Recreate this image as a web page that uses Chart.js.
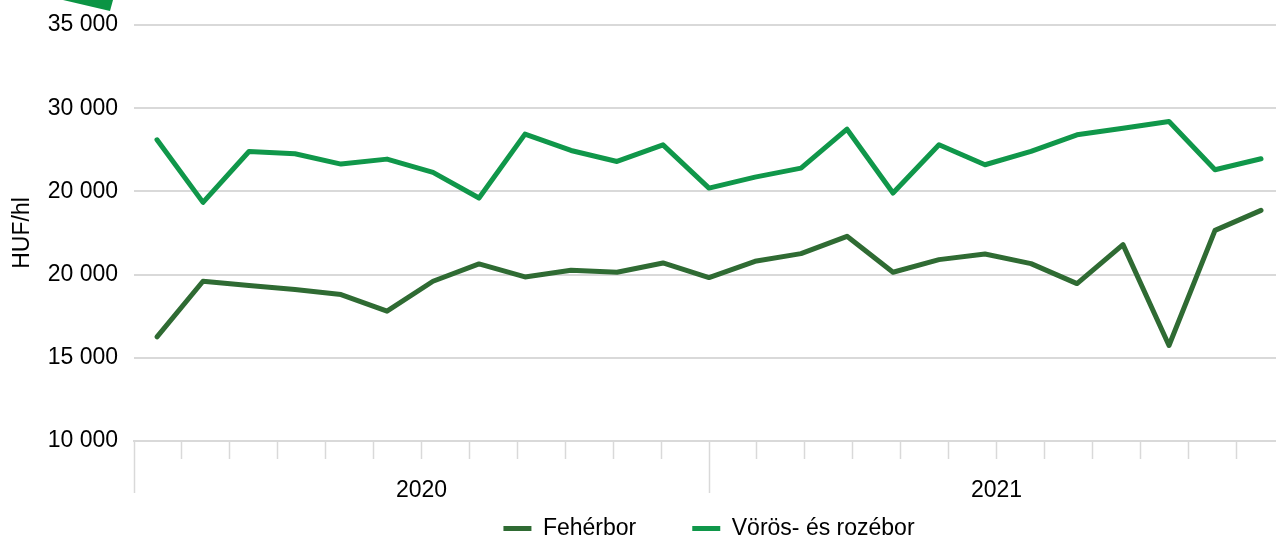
<!DOCTYPE html>
<html>
<head>
<meta charset="utf-8">
<script src="https://cdn.jsdelivr.net/npm/chart.js@4.4.1/dist/chart.umd.min.js"></script>
<style>
  html, body { margin: 0; padding: 0; background: #fff; overflow: hidden; }
  #wrap { position: relative; width: 1290px; height: 550px; }
  #logo { position: absolute; left: 63px; top: 0; width: 50px; height: 11px; background: #0b9444;
          clip-path: polygon(0 0, 100% 0, 94% 100%); }
</style>
</head>
<body>
<div id="wrap">
  <div id="logo"></div>
  <canvas id="myChart"></canvas>
</div>
<script>
// data points (25 periods) and the month grid below them (24 months)
var periods = ['2020-01','2020-02','2020-03','2020-04','2020-05','2020-06','2020-07','2020-08','2020-09','2020-10','2020-11','2020-12',
               '2021-01','2021-02','2021-03','2021-04','2021-05','2021-06','2021-07','2021-08','2021-09','2021-10','2021-11','2021-12','2022-01'];
var months = ['jan','feb','mar','apr','maj','jun','jul','aug','szep','okt','nov','dec',
              'jan','feb','mar','apr','maj','jun','jul','aug','szep','okt','nov','dec'];
var years = ['2020', '2021'];

var feherbor = [16260, 19600, 19340, 19100, 18800, 17800, 19600, 20640, 19860, 20260, 20140, 20700,
                19820, 20800, 21260, 22300, 20140, 20900, 21240, 20660, 19460, 21800, 15740, 22660, 23860];
var voros = [28100, 24340, 27400, 27260, 26640, 26940, 26140, 24600, 28440, 27460, 26800, 27800,
             25200, 25860, 26400, 28740, 24900, 27800, 26600, 27400, 28400, 28800, 29200, 26300, 26960];

var yTickLabels = ['10 000', '15 000', '20 000', '20 000', '30 000', '35 000'];

var gridColor = '#d9d9d9';
Chart.defaults.font.family = "'Liberation Sans', Arial, sans-serif";
Chart.defaults.font.size = 23;
Chart.defaults.color = '#000';

// the month axis is kept short so the legend fits, give its year labels room to show
var yearLabelRoom = {
    id: 'yearLabelRoom',
    afterLayout: function (c) {
        var s = c.scales.xm;
        s.bottom = s.top + 70;
    }
};

var ctx = document.getElementById('myChart').getContext('2d');
var chart = new Chart(ctx, {
    type: 'line',
    data: {
        labels: periods,
        datasets: [{
            label: 'Fehérbor',
            data: feherbor,
            borderColor: '#2f6b33',
            backgroundColor: '#2f6b33',
            borderWidth: 5
        }, {
            label: 'Vörös- és rozébor',
            data: voros,
            borderColor: '#10974a',
            backgroundColor: '#10974a',
            borderWidth: 5
        }]
    },
    plugins: [yearLabelRoom],
    options: {
        responsive: true,
        maintainAspectRatio: false,
        animation: false,
        layout: { padding: { top: 25, right: 6, bottom: 0, left: 0 } },
        elements: {
            point: { radius: 0, hoverRadius: 0 },
            line: { tension: 0, borderCapStyle: 'round', borderJoinStyle: 'round' }
        },
        plugins: {
            tooltip: { enabled: false },
            legend: {
                position: 'bottom',
                fullSize: false,
                labels: {
                    usePointStyle: true,
                    pointStyle: 'line',
                    pointStyleWidth: 28,
                    padding: 56,
                    font: { size: 23 }
                }
            }
        },
        scales: {
            x: {
                type: 'category',
                display: false,
                offset: true
            },
            xm: {
                type: 'category',
                labels: months,
                position: 'bottom',
                offset: true,
                grid: {
                    offset: true,
                    drawOnChartArea: false,
                    tickLength: 52,
                    tickColor: gridColor,
                    tickWidth: 1.5,
                    // short ticks between months, long ones at year boundaries
                    tickBorderDash: function (c) {
                        return (c.type !== 'tick' || c.index % 12 === 0) ? [] : [17, 100];
                    }
                },
                border: { color: gridColor, width: 2 },
                ticks: {
                    autoSkip: false,
                    maxRotation: 0,
                    padding: -16,
                    labelOffset: 24,
                    callback: function (v, i) {
                        return i % 12 === 5 ? years[Math.floor(i / 12)] : '';
                    }
                },
                afterFit: function (s) { s.height = 20; }
            },
            y: {
                min: 10000,
                max: 35000,
                ticks: {
                    stepSize: 5000,
                    padding: 0,
                    callback: function (v, i) { return yTickLabels[i]; }
                },
                // invisible tick marks keep the labels away from the plot
                grid: { color: gridColor, lineWidth: 2, drawTicks: true, tickLength: 16, tickColor: 'rgba(0,0,0,0)' },
                border: { display: false },
                title: {
                    display: true,
                    text: 'HUF/hl',
                    font: { size: 23 },
                    padding: { top: 9, bottom: 4 }
                },
                afterFit: function (s) { s.width = 134; }
            }
        }
    }
});
</script>
</body>
</html>
